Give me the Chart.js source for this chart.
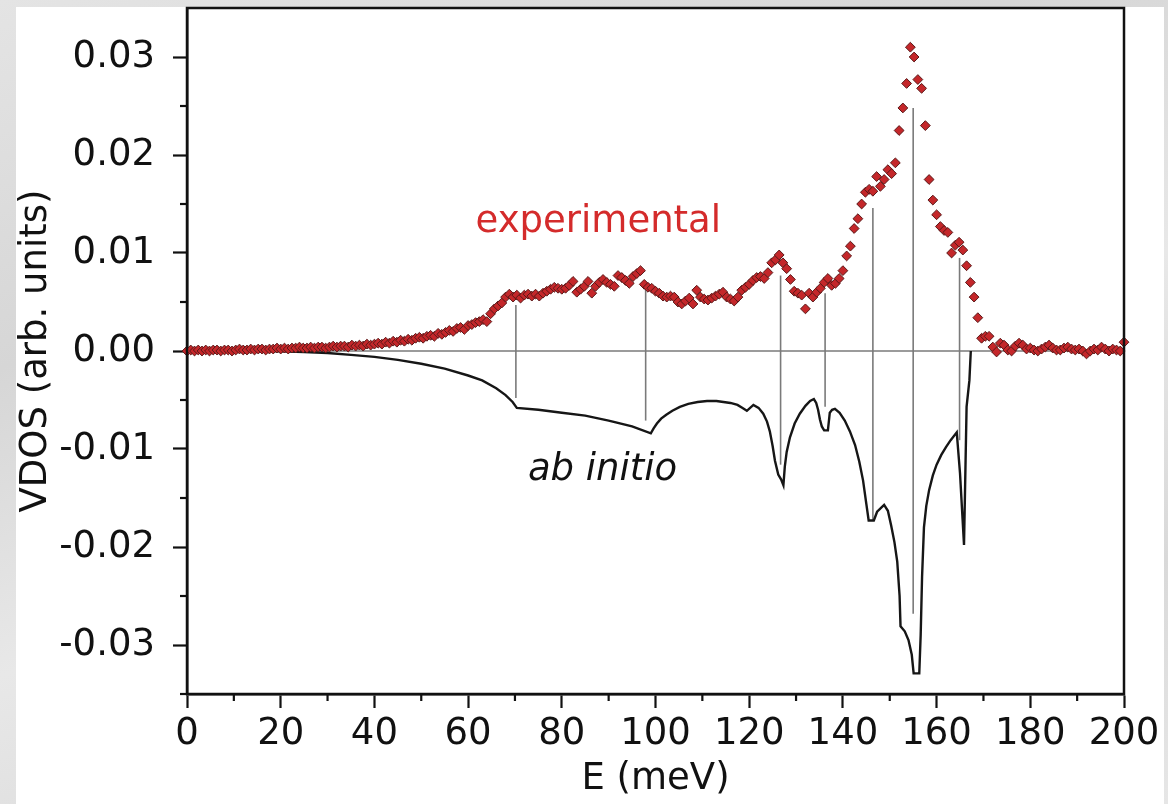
<!DOCTYPE html>
<html><head><meta charset="utf-8">
<script src="https://cdn.jsdelivr.net/npm/chart.js@4.4.1/dist/chart.umd.min.js"></script>
<style>
html,body{margin:0;padding:0;width:1168px;height:804px;overflow:hidden;
 background:linear-gradient(160deg,#e4e4e4 0%,#d6d6d6 30%,#e8e8e8 55%,#d9d9d9 80%,#e6e6e6 100%);}
#panel{position:absolute;left:16px;top:7px;width:1148px;height:797px;background:#fff;}
canvas{position:absolute;left:0;top:0;}
</style></head>
<body><div id="panel"></div><canvas id="c" width="1168" height="804"></canvas>
<script>
// ---------- data ----------
const expEnergy = Array.from({length: 251}, (_, i) => +(i * 0.8).toFixed(1)); // meV grid
const expVDOS = [
0.0000,0.0001,0.0000,0.0001,0.0000,0.0001,0.0000,0.0001,0.0001,0.0000,
0.0001,0.0001,0.0000,0.0001,0.0002,0.0001,0.0001,0.0002,0.0001,0.0002,
0.0002,0.0001,0.0002,0.0002,0.0003,0.0002,0.0003,0.0002,0.0003,0.0003,
0.0004,0.0003,0.0003,0.0004,0.0003,0.0004,0.0004,0.0003,0.0004,0.0005,
0.0004,0.0005,0.0005,0.0004,0.0006,0.0005,0.0006,0.0005,0.0007,0.0006,
0.0007,0.0008,0.0007,0.0009,0.0008,0.0010,0.0009,0.0011,0.0010,0.0012,
0.0011,0.0013,0.0014,0.0013,0.0015,0.0016,0.0015,0.0018,0.0017,0.0019,
0.0021,0.0020,0.0023,0.0024,0.0022,0.0026,0.0027,0.0029,0.0030,0.0032,
0.0030,0.0038,0.0043,0.0046,0.0049,0.0055,0.0058,0.0055,0.0057,0.0054,
0.0057,0.0058,0.0056,0.0058,0.0056,0.0059,0.0061,0.0063,0.0065,0.0064,
0.0063,0.0064,0.0067,0.0071,0.0060,0.0063,0.0066,0.0071,0.0059,0.0066,
0.0070,0.0073,0.0070,0.0068,0.0066,0.0077,0.0075,0.0072,0.0069,0.0076,
0.0079,0.0082,0.0068,0.0065,0.0064,0.0061,0.0059,0.0056,0.0055,0.0056,
0.0055,0.0050,0.0048,0.0051,0.0054,0.0048,0.0062,0.0055,0.0053,0.0052,
0.0054,0.0056,0.0058,0.0060,0.0055,0.0053,0.0051,0.0055,0.0062,0.0065,
0.0068,0.0072,0.0075,0.0076,0.0074,0.0080,0.0090,0.0093,0.0098,0.0090,
0.0084,0.0073,0.0061,0.0059,0.0057,0.0043,0.0059,0.0055,0.0060,0.0064,
0.0070,0.0074,0.0067,0.0069,0.0074,0.0082,0.0097,0.0107,0.0125,0.0135,
0.0150,0.0162,0.0165,0.0163,0.0178,0.0168,0.0175,0.0185,0.0181,0.0192,
0.0225,0.0248,0.0273,0.0310,0.0300,0.0277,0.0268,0.0230,0.0175,0.0154,
0.0139,0.0127,0.0123,0.0121,0.0100,0.0108,0.0111,0.0103,0.0087,0.0070,
0.0055,0.0034,0.0013,0.0015,0.0015,0.0004,-0.0001,0.0008,0.0006,0.0001,
0.0000,0.0005,0.0008,0.0006,0.0002,0.0003,0.0001,0.0000,0.0002,0.0004,
0.0006,0.0003,0.0001,0.0001,0.0003,0.0004,0.0002,0.0001,0.0002,0.0000,
-0.0003,0.0000,0.0002,0.0001,0.0004,0.0002,0.0000,0.0002,0.0001,0.0000,
0.0009
];

const abEnergy = [0,10,20,25,30,35,40,45,50,55,60,63,66,68,69.5,70.4,75,80,85,90,95,99,
 99.6,100.3,101.2,102.3,103.6,105.2,107,109,111,113,114.5,116,117.5,118.5,119.5,120.9,122,123,123.8,124.4,125,125.5,126.2,126.8,127.3,127.6,128,128.7,129.7,130.8,132,133,133.8,
 134.3,134.7,135.1,135.5,136,136.8,137.2,137.7,138.3,139.3,140.4,141.5,142.6,143.5,144.3,145,145.5,146.6,147.3,148.8,149.6,150.3,151,151.6,152.1,
 152.3,153.2,154,154.7,155.1,156.3,156.6,156.9,157.3,157.8,158.4,159.2,160,161,162,163,164.3,165,165.85,166.4,167,167.3];
const abVDOS = [0,0,-0.00002,-0.0001,-0.0002,-0.0004,-0.0006,-0.0009,-0.0013,-0.0018,-0.0025,-0.0030,-0.0038,-0.0045,-0.0052,-0.0058,-0.0060,-0.0063,-0.0066,-0.0071,-0.0077,-0.0084,
 -0.0079,-0.0074,-0.0069,-0.0065,-0.0061,-0.0057,-0.0054,-0.0052,-0.0051,-0.0051,-0.0052,-0.0053,-0.0055,-0.0058,-0.0061,-0.0055,-0.0058,-0.0064,-0.0072,-0.0082,-0.0097,-0.0112,-0.0126,-0.0131,-0.0137,-0.0118,-0.0103,-0.0088,-0.0074,-0.0064,-0.0056,-0.0051,-0.0049,
 -0.0053,-0.0060,-0.0070,-0.0077,-0.0081,-0.0081,-0.0063,-0.0060,-0.0059,-0.0063,-0.0071,-0.0082,-0.0096,-0.0113,-0.0132,-0.0156,-0.0173,-0.0173,-0.0164,-0.0157,-0.0163,-0.0178,-0.0195,-0.0215,-0.0250,
 -0.0281,-0.0286,-0.0295,-0.0310,-0.0329,-0.0329,-0.0290,-0.0230,-0.0180,-0.0158,-0.0142,-0.0127,-0.0116,-0.0106,-0.0098,-0.0091,-0.0083,-0.0125,-0.0198,-0.0057,-0.0030,0];

const stickE = [70.2, 97.9, 126.7, 136.2, 146.4, 155.0, 164.9];
const stickTop = [0.0047, 0.0065, 0.0077, 0.0059, 0.0146, 0.0248, 0.0095];
const stickBottom = [-0.0048, -0.0071, -0.0116, -0.0057, -0.0173, -0.0268, -0.0091];

const xMajorTicks = [0,20,40,60,80,100,120,140,160,180,200];
const xMinorTicks = [10,30,50,70,90,110,130,150,170,190];
const yMajorTicks = [-0.03,-0.02,-0.01,0,0.01,0.02,0.03];
const yMinorTicks = [-0.035,-0.025,-0.015,-0.005,0.005,0.015,0.025];

const textLabels = [
  {text: 'experimental', e: 87.8, v: 0.01315, color: '#d42b2b', italic: false},
  {text: 'ab initio', e: 88.7, v: -0.0122, color: '#111111', italic: true}
];

// ---------- datasets ----------
const FONT = "'DejaVu Sans', Verdana, sans-serif";
const FS = 37;
const datasets = [];
datasets.push({
  label: 'experimental',
  data: expEnergy.map((e, i) => ({x: e, y: expVDOS[i]})),
  showLine: false, pointStyle: 'rectRot', pointRadius: 4.9,
  pointBackgroundColor: '#c4272a', pointBorderColor: '#5a1818', pointBorderWidth: 1,
  order: 0, clip: false
});
datasets.push({
  label: 'ab initio',
  data: abEnergy.map((e, i) => ({x: e, y: abVDOS[i]})),
  showLine: true, pointRadius: 0, borderColor: '#161616', borderWidth: 2.4,
  tension: 0, order: 1
});
stickE.forEach((e, i) => {
  datasets.push({
    label: 'stick' + i,
    data: [{x: e, y: stickBottom[i]}, {x: e, y: stickTop[i]}],
    showLine: true, pointRadius: 0, borderColor: '#7a7a7a', borderWidth: 1.6, order: 2
  });
});
datasets.push({
  label: 'zero',
  data: [{x: 0, y: 0}, {x: 200, y: 0}],
  showLine: true, pointRadius: 0, borderColor: '#7a7a7a', borderWidth: 1.6, order: 3
});

const decorPlugin = {
  id: 'decor',
  afterDraw(chart) {
    const {ctx, chartArea: a, scales: {x, y}} = chart;
    ctx.save();
    ctx.strokeStyle = '#111'; ctx.lineWidth = 2.5;
    ctx.strokeRect(a.left, a.top, a.right - a.left, a.bottom - a.top);
    ctx.lineWidth = 2.2;
    xMinorTicks.forEach(v => {
      const px = x.getPixelForValue(v);
      ctx.beginPath(); ctx.moveTo(px, a.bottom); ctx.lineTo(px, a.bottom + 7); ctx.stroke();
    });
    yMinorTicks.forEach(v => {
      const py = y.getPixelForValue(v);
      ctx.beginPath(); ctx.moveTo(a.left, py); ctx.lineTo(a.left - 7, py); ctx.stroke();
    });
    textLabels.forEach(t => {
      ctx.font = (t.italic ? 'italic ' : '') + FS + 'px ' + FONT;
      ctx.fillStyle = t.color; ctx.textAlign = 'center'; ctx.textBaseline = 'middle';
      ctx.fillText(t.text, x.getPixelForValue(t.e), y.getPixelForValue(t.v));
    });
    ctx.restore();
  }
};

new Chart(document.getElementById('c'), {
  type: 'scatter',
  data: {datasets},
  options: {
    responsive: false, animation: false, devicePixelRatio: 1,
    layout: {padding: {left: 0, top: 8, right: 44, bottom: 0}},
    plugins: {legend: {display: false}, tooltip: {enabled: false}},
    scales: {
      x: {
        type: 'linear', min: 0, max: 200,
        afterBuildTicks: s => { s.ticks = xMajorTicks.map(v => ({value: v})); },
        afterFit: s => { s.height = 110; s.paddingLeft = 0; s.paddingRight = 0; },
        ticks: {color: '#111', font: {family: FONT, size: FS}, padding: 4, maxRotation: 0, autoSkip: false,
                callback: v => String(v)},
        grid: {drawOnChartArea: false, drawTicks: true, tickLength: 14, tickColor: '#111', tickWidth: 2.2},
        border: {display: true, color: '#111', width: 2.5},
        title: {display: true, text: 'E (meV)', color: '#111', font: {family: FONT, size: FS}, padding: {top: 0, bottom: 2}}
      },
      y: {
        type: 'linear', min: -0.035, max: 0.035,
        afterBuildTicks: s => { s.ticks = yMajorTicks.map(v => ({value: v})); },
        afterFit: s => { s.width = 187; s.paddingTop = 0; s.paddingBottom = 0; },
        ticks: {color: '#111', font: {family: FONT, size: FS}, padding: 18, autoSkip: false,
                callback: v => v.toFixed(2)},
        grid: {drawOnChartArea: false, drawTicks: true, tickLength: 14, tickColor: '#111', tickWidth: 2.2},
        border: {display: true, color: '#111', width: 2.5},
        title: {display: true, text: 'VDOS (arb. units)', color: '#111', font: {family: FONT, size: FS}, padding: {top: 14, bottom: 0}}
      }
    }
  },
  plugins: [decorPlugin]
});
</script>
</body></html>
